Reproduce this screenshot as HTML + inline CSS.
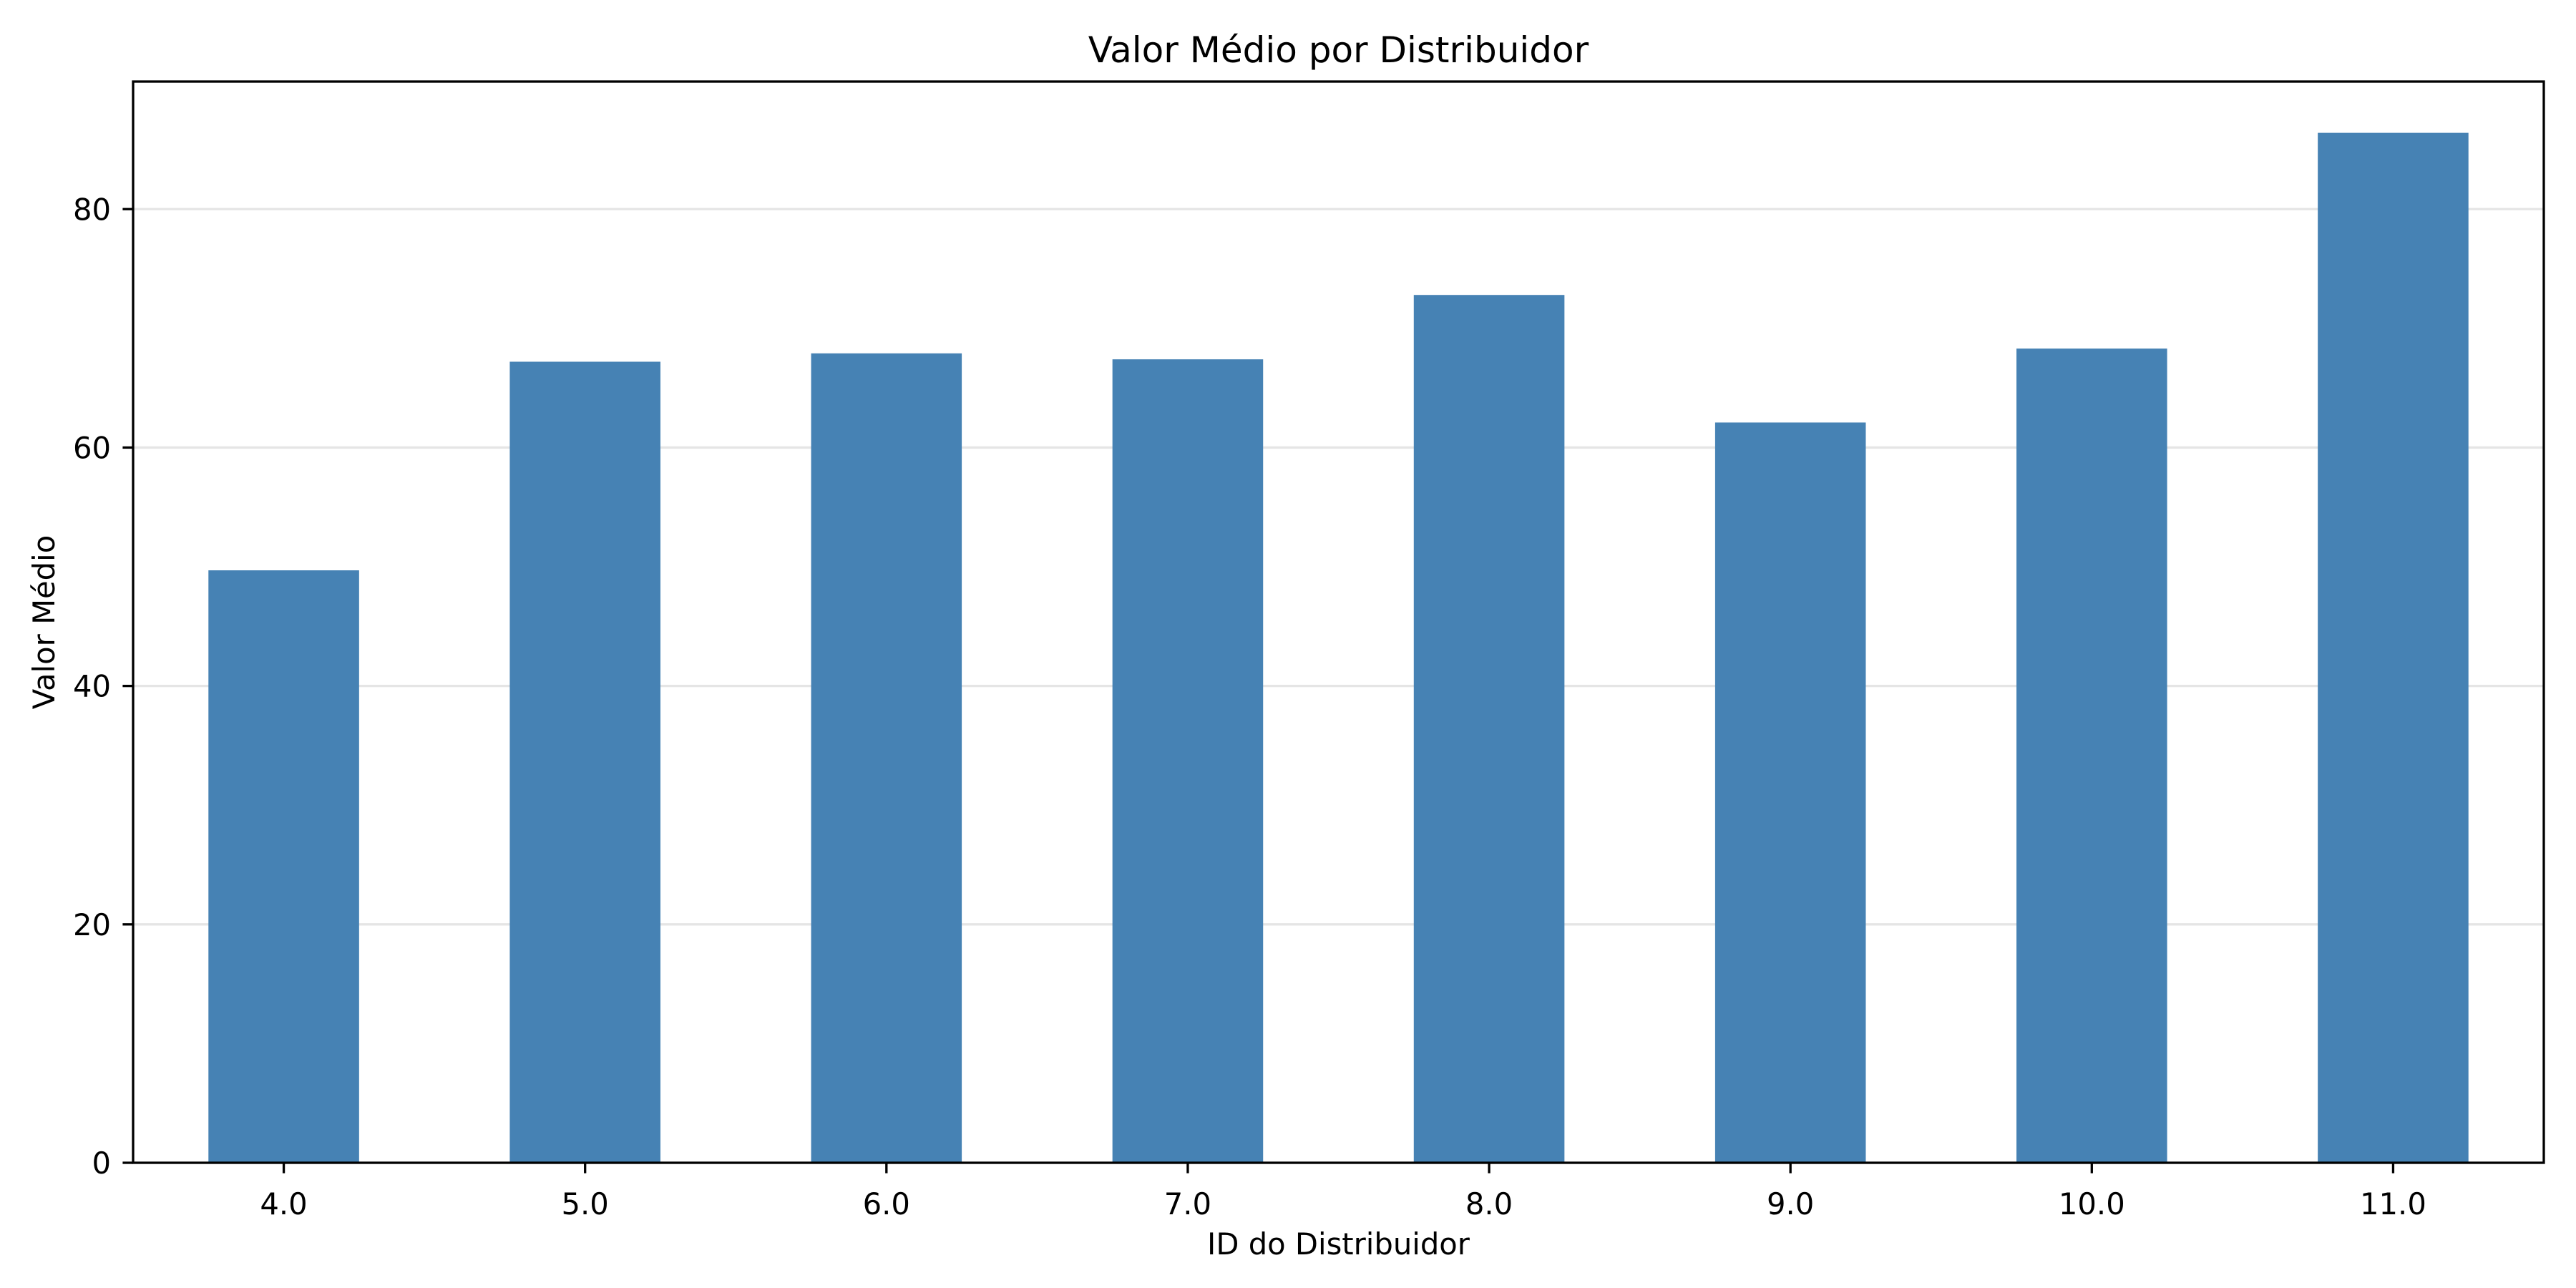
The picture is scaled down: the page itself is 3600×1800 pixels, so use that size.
<!DOCTYPE html>
<html><head><meta charset="utf-8"><style>
html,body{margin:0;padding:0;background:#fff;}
svg{display:block;font-family:"DejaVu Sans","Liberation Sans",sans-serif;}
</style></head><body>
<svg id="chart" width="3600" height="1800" viewBox="0 0 3600 1800" xmlns="http://www.w3.org/2000/svg">
<rect width="3600" height="1800" fill="#fff"/>
<g id="grid"></g><g id="bars"></g><g id="axes"></g>
</svg>
<script>
const categories = ["4.0","5.0","6.0","7.0","8.0","9.0","10.0","11.0"];
const values = [49.7, 67.2, 67.9, 67.4, 72.8, 62.1, 68.3, 86.4];
const yTicks = [0, 20, 40, 60, 80];
const yMax = 90.7;

const L = 186, R = 3555, T = 114, B = 1625;
const NS = "http://www.w3.org/2000/svg";
const step = (R - L) / categories.length;
function xScale(i) { return L + (i + 0.5) * step; }
function yScale(v) { return B - v / yMax * (B - T); }
function mk(tag, attrs, parent, text) {
  const e = document.createElementNS(NS, tag);
  for (const k in attrs) e.setAttribute(k, attrs[k]);
  if (text !== undefined) e.textContent = text;
  parent.appendChild(e);
  return e;
}
const svg = document.getElementById('chart');
const grid = document.getElementById('grid');
const bars = document.getElementById('bars');
const axes = document.getElementById('axes');

yTicks.forEach(t => {
  const y = yScale(t);
  if (t > 0) {
    const g = mk('line', {x1: L, x2: R, y1: y, y2: y, stroke: '#e5e5e5', 'stroke-width': 3.3}, grid);
    
    
  }
  const tk = mk('line', {x1: L - 14.6, x2: L, y1: y, y2: y, stroke: '#000', 'stroke-width': 3.3}, axes);
  
  
  const lb = mk('text', {x: 155, y: y + 15, 'font-size': 41.7, 'text-anchor': 'end', fill: '#000'}, axes, String(t));
  
  
});

categories.forEach((c, i) => {
  const cx = xScale(i), w = step * 0.5;
  const y = yScale(values[i]);
  const r = mk('rect', {x: cx - w / 2, y: y, width: w, height: B - y, fill: '#4682b4'}, bars);
  
  
  const tk = mk('line', {x1: cx, x2: cx, y1: B, y2: B + 14.6, stroke: '#000', 'stroke-width': 3.3}, axes);
  
  
  const lb = mk('text', {x: cx, y: 1697, 'font-size': 41.7, 'text-anchor': 'middle', fill: '#000'}, axes, c);
  
  
});

const frame = mk('rect', {x: L, y: T, width: R - L, height: B - T, fill: 'none', stroke: '#000', 'stroke-width': 3.3}, axes);



const title = mk('text', {x: (L + R) / 2, y: 87, 'font-size': 50, 'text-anchor': 'middle', fill: '#000'}, axes, 'Valor Médio por Distribuidor');



const xl = mk('text', {x: (L + R) / 2, y: 1753, 'font-size': 41.7, 'text-anchor': 'middle', fill: '#000'}, axes, 'ID do Distribuidor');



const yl = mk('text', {x: 0, y: 0, 'font-size': 41.7, 'text-anchor': 'middle', fill: '#000', transform: 'translate(76,' + ((T + B) / 2) + ') rotate(-90)'}, axes, 'Valor Médio');


</script>
</body></html>
